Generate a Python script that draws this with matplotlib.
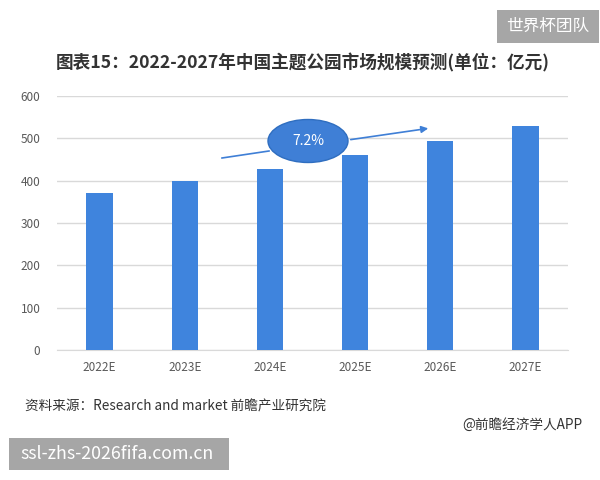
import matplotlib
matplotlib.use("Agg")
import matplotlib.pyplot as plt
from matplotlib.patches import Ellipse, Rectangle

plt.rcParams['font.family'] = ['Noto Sans CJK SC', 'DejaVu Sans']

categories = ["2022E", "2023E", "2024E", "2025E", "2026E", "2027E"]
values = [372, 400, 428, 461, 494, 530]
yticks = [0, 100, 200, 300, 400, 500, 600]
title = "图表15：2022-2027年中国主题公园市场规模预测(单位：亿元)"
cagr = "7.2%"

W, H = 600, 480
fig = plt.figure(figsize=(6, 4.8), dpi=100)
fig.patch.set_facecolor("white")

def fx(x):
    return x / W

def fy(y):
    return 1 - y / H

ax = fig.add_axes([fx(57), fy(350), fx(568) - fx(57), fy(96) - fy(350)])
x = range(len(categories))
ax.bar(x, values, width=0.31, color="#3F84DD", zorder=3)
ax.set_xlim(-0.5, len(categories) - 0.5)
ax.set_ylim(0, 600)
ax.set_yticks(yticks)
ax.set_xticks(list(x))
ax.set_xticklabels(categories)
ax.grid(axis="y", color="#D9D9D9", linewidth=1, zorder=0)
for s in ["top", "right", "left"]:
    ax.spines[s].set_visible(False)
ax.spines["bottom"].set_color("#D9D9D9")
ax.tick_params(axis="both", length=0, colors="#595959", labelsize=8.5)
ax.tick_params(axis="y", pad=12)
ax.tick_params(axis="x", pad=8)

# title
fig.text(0.505, fy(63), title, ha="center", va="center", fontsize=12.7,
         fontweight="bold", color="#333333")

# CAGR annotation
ell = Ellipse((fx(308), fy(141)), fx(80), 43 / H, transform=fig.transFigure,
              facecolor="#3F7FD6", edgecolor="#2F6EC0", linewidth=1, zorder=5)
fig.add_artist(ell)
fig.text(fx(308), fy(141), cagr, ha="center", va="center", color="white",
         fontsize=10, zorder=6)
fig.add_artist(plt.Line2D([fx(222), fx(269)], [fy(158), fy(151)],
                          transform=fig.transFigure, color="#3F7FD6", linewidth=1.2))
ax.annotate("", xy=(fx(431), fy(128)), xytext=(fx(348), fy(140)),
            xycoords="figure fraction", textcoords="figure fraction",
            arrowprops=dict(arrowstyle="-|>", color="#3F7FD6", lw=1.2,
                            mutation_scale=10))

# top-right grey tag
fig.add_artist(Rectangle((fx(497), fy(43)), fx(102), 33 / H, transform=fig.transFigure,
                         facecolor="#A6A6A6", edgecolor="none"))
fig.text(fx(548), fy(26), "世界杯团队", ha="center", va="center", color="white",
         fontsize=12)

# source
fig.text(fx(25), fy(406), "资料来源：Research and market 前瞻产业研究院", ha="left",
         va="center", fontsize=9.8, color="#333333")
fig.text(fx(582), fy(425), "@前瞻经济学人APP", ha="right", va="center",
         fontsize=9.8, color="#333333")

# bottom grey tag
fig.add_artist(Rectangle((fx(9), fy(470)), fx(220), 32 / H, transform=fig.transFigure,
                         facecolor="#A6A6A6", edgecolor="none"))
fig.text(fx(20), fy(454), "ssl-zhs-2026fifa.com.cn", ha="left", va="center",
         color="white", fontsize=12.8)

fig.savefig("out.png", dpi=100)
